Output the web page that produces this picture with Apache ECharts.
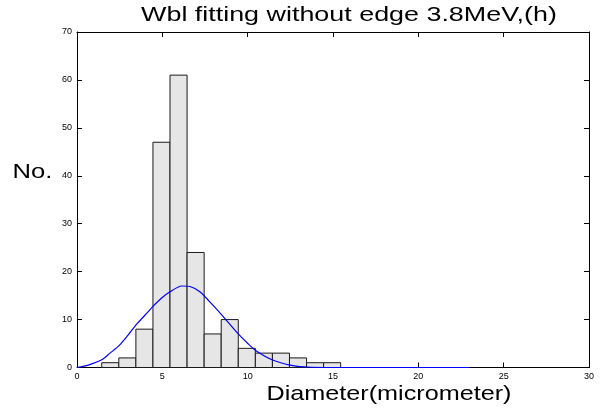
<!DOCTYPE html>
<html>
<head>
<meta charset="utf-8">
<script src="https://cdn.jsdelivr.net/npm/echarts@6/dist/echarts.min.js"></script>
<style>
  html, body { margin: 0; padding: 0; background: #fff; }
  #chart { width: 607px; height: 412px; }
</style>
</head>
<body>
<div id="chart"></div>
<script>
// Histogram bin centres (micrometer) and counts
const binCenters = [1.95, 2.95, 3.95, 4.95, 5.95, 6.95, 7.95, 8.95, 9.95, 10.95, 11.95, 12.95, 13.95, 14.95];
const binCounts  = [1, 2, 8, 47, 61, 24, 7, 10, 4, 3, 3, 2, 1, 1];
const binWidth = 1.0;

// Weibull fit curve, sampled
const fitX = [0, 0.66, 1.45, 1.93, 2.42, 2.91, 3.46, 3.98, 4.41, 4.96, 5.45, 6.13, 6.62, 7.2, 7.99, 8.67, 9.45, 10.04, 10.53, 11.5, 12.48, 13.46, 15, 23];
const fitY = [0, 0.5, 1.6, 3.0, 4.4, 6.4, 8.9, 10.9, 12.6, 14.5, 15.8, 17.0, 16.9, 15.8, 12.9, 10.2, 7.0, 4.9, 3.4, 1.5, 0.5, 0.1, 0, 0];

// Axis ranges and tick steps
const xRange = [0, 30], xStep = 5;
const yRange = [0, 70], yStep = 10;

const titleText = 'Wbl fitting without edge 3.8MeV,(h)';
const xLabelText = 'Diameter(micrometer)';
const yLabelText = 'No.';

const chart = echarts.init(document.getElementById('chart'), null, { renderer: 'canvas' });

const tickFont = { fontFamily: 'Liberation Sans, Arial, sans-serif', fontSize: 9, color: '#000' };
const baseAxisX = {
  type: 'value', min: xRange[0], max: xRange[1], interval: xStep,
  axisLine: { show: true, onZero: false, lineStyle: { color: '#000', width: 1 } },
  axisTick: { show: true, inside: true, length: 5, lineStyle: { color: '#000' } },
  splitLine: { show: false }
};
const baseAxisY = {
  type: 'value', min: yRange[0], max: yRange[1], interval: yStep,
  axisLine: { show: true, onZero: false, lineStyle: { color: '#000', width: 1 } },
  axisTick: { show: true, inside: true, length: 5, lineStyle: { color: '#000' } },
  splitLine: { show: false }
};

const bars = binCenters.map((c, i) => [c - binWidth / 2, c + binWidth / 2, binCounts[i]]);
const curve = fitX.map((x, i) => [x, fitY[i]]);

const textFont = 'Liberation Sans, Arial, sans-serif';

chart.setOption({
  animation: false,
  backgroundColor: '#fff',
  grid: { left: 77, top: 32, width: 512, height: 335.5, containLabel: false },
  xAxis: [
    Object.assign({}, baseAxisX, { position: 'bottom', z: 1, axisLabel: Object.assign({ margin: 5 }, tickFont) }),
    Object.assign({}, baseAxisX, { position: 'top', axisLabel: { show: false } })
  ],
  yAxis: [
    Object.assign({}, baseAxisY, { position: 'left', axisLabel: Object.assign({ margin: 5 }, tickFont) }),
    Object.assign({}, baseAxisY, { position: 'right', axisLabel: { show: false } })
  ],
  series: [
    {
      type: 'custom',
      xAxisIndex: 0, yAxisIndex: 0,
      data: bars,
      encode: { x: [0, 1], y: 2 },
      renderItem: function (params, api) {
        const p0 = api.coord([api.value(0), 0]);
        const p1 = api.coord([api.value(1), api.value(2)]);
        return {
          type: 'rect',
          shape: { x: p0[0], y: p1[1], width: p1[0] - p0[0], height: p0[1] - p1[1] },
          style: { fill: '#e6e6e6', stroke: '#1a1a1a', lineWidth: 1 }
        };
      },
      z: 2
    },
    {
      type: 'line',
      xAxisIndex: 0, yAxisIndex: 0,
      data: curve,
      smooth: 0.25,
      showSymbol: false,
      lineStyle: { color: '#0000ff', width: 1.2 },
      z: 3
    }
  ],
  graphic: [
    {
      type: 'text', x: 349, y: 15, scaleX: 1.28, scaleY: 1,
      style: { text: titleText, font: '21px ' + textFont, fill: '#000', textAlign: 'center', textVerticalAlign: 'middle' }
    },
    {
      type: 'text', x: 389, y: 394, scaleX: 1.2, scaleY: 1,
      style: { text: xLabelText, font: '21px ' + textFont, fill: '#000', textAlign: 'center', textVerticalAlign: 'middle' }
    },
    {
      type: 'text', x: 32.5, y: 172, scaleX: 1.22, scaleY: 1,
      style: { text: yLabelText, font: '21px ' + textFont, fill: '#000', textAlign: 'center', textVerticalAlign: 'middle' }
    }
  ]
});
</script>
</body>
</html>
